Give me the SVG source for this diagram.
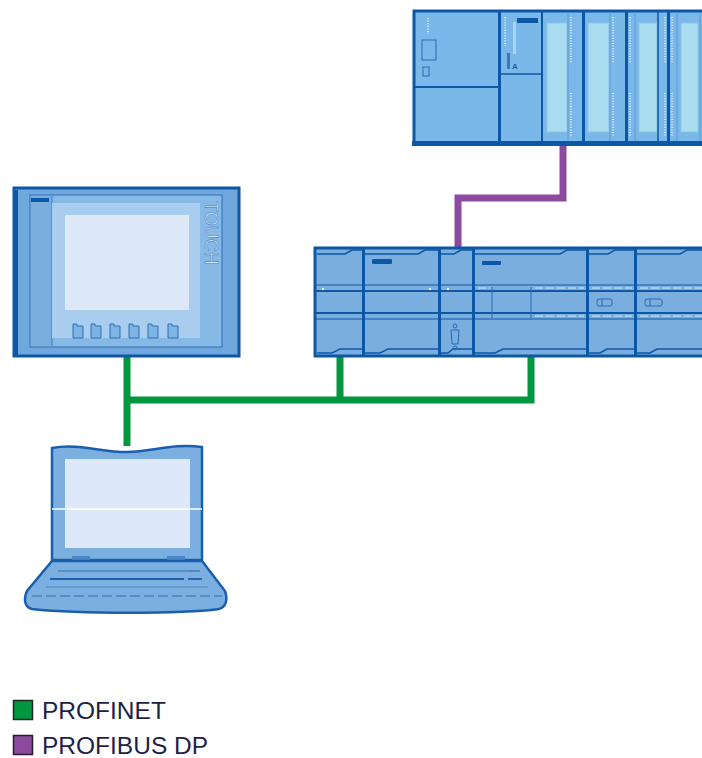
<svg xmlns="http://www.w3.org/2000/svg" width="702" height="758" viewBox="0 0 702 758">
  <style>
    .frame { stroke: #0d57a7; stroke-width: 3; }
    .dark { fill: #0d57a7; }
    .line { stroke: #0d57a7; fill: none; }
    .thin { stroke: #2a69b2; stroke-width: 1; fill: none; }
    .panel { fill: #aadcef; stroke: #8cc3e6; stroke-width: 1; }
    .dots { stroke: #e4f3fb; stroke-width: 1.6; stroke-dasharray: 1 1.6; fill: none; }
    .wdash { stroke: #cfe5f7; stroke-width: 1.2; stroke-dasharray: 8 3; fill: none; }
    .pn { stroke: #00973f; stroke-width: 7; fill: none; stroke-linejoin: miter; }
    .dp { stroke: #8b4a9e; stroke-width: 7; fill: none; stroke-linejoin: miter; }
    .legend { font-family: "Liberation Sans", Arial, sans-serif; font-size: 24.5px; fill: #1c1f4a; }
  </style>

  <!-- bus connections -->
  <g id="connectors">
    <polyline class="dp" points="563,146 563,198 458,198 458,248"/>
    <polyline class="pn" points="127,356 127,446"/>
    <polyline class="pn" points="127,400 531,400 531,356"/>
    <polyline class="pn" points="340,356 340,400"/>
  </g>

  <!-- S7-300 rack -->
  <g id="s7-300">
    <rect x="414" y="11" width="300" height="133" fill="#7bb8ea" class="frame"/>
    <rect x="412" y="141" width="300" height="5" class="dark"/>
    <!-- power supply -->
    <line x1="414" y1="87" x2="500" y2="87" class="line" stroke-width="2"/>
    <line x1="428" y1="18" x2="428" y2="34" class="dots"/>
    <rect x="422" y="40" width="14" height="20" fill="none" class="thin" stroke="#2a69b2" stroke-width="1.5"/>
    <rect x="423" y="67" width="6" height="9" class="thin"/>
    <rect x="498" y="11" width="3" height="133" class="dark"/>
    <!-- CPU -->
    <line x1="500" y1="74" x2="542" y2="74" class="line" stroke-width="1.5"/>
    <line x1="505" y1="17" x2="505" y2="46" class="dots"/>
    <rect x="517" y="18" width="21" height="5" class="dark"/>
    <rect x="513" y="22" width="3" height="32" fill="#a9d3f2"/>
    <rect x="507" y="53" width="3" height="16" fill="#3d78bb"/>
    <text x="512" y="69" font-family="Liberation Sans, Arial, sans-serif" font-size="8" font-weight="bold" fill="#1d5aa6">A</text>
    <rect x="541" y="11" width="2" height="133" class="dark"/>
    <!-- signal modules -->
    <rect x="547" y="23" width="20" height="109" class="panel"/>
    <line x1="568" y1="12" x2="568" y2="141" stroke="#5d9ad4" stroke-width="1"/>
    <line x1="571" y1="17" x2="571" y2="63" class="dots"/>
    <line x1="571" y1="93" x2="571" y2="137" class="dots"/>
    <rect x="582" y="11" width="3" height="133" class="dark"/>
    <rect x="588" y="23" width="21" height="109" class="panel"/>
    <line x1="610" y1="12" x2="610" y2="141" stroke="#5d9ad4" stroke-width="1"/>
    <line x1="613" y1="17" x2="613" y2="63" class="dots"/>
    <line x1="613" y1="93" x2="613" y2="137" class="dots"/>
    <rect x="625" y="11" width="3" height="133" class="dark"/>
    <line x1="630" y1="17" x2="630" y2="63" class="dots"/>
    <line x1="630" y1="93" x2="630" y2="137" class="dots"/>
    <line x1="635" y1="12" x2="635" y2="141" stroke="#5d9ad4" stroke-width="1"/>
    <rect x="639" y="23" width="18" height="109" class="panel"/>
    <line x1="658" y1="12" x2="658" y2="141" class="line" stroke-width="1.5"/>
    <line x1="665" y1="17" x2="665" y2="63" class="dots"/>
    <line x1="665" y1="93" x2="665" y2="137" class="dots"/>
    <rect x="667" y="11" width="3" height="133" class="dark"/>
    <line x1="672" y1="17" x2="672" y2="63" class="dots"/>
    <line x1="672" y1="93" x2="672" y2="137" class="dots"/>
    <line x1="677" y1="12" x2="677" y2="141" stroke="#5d9ad4" stroke-width="1"/>
    <rect x="681" y="23" width="17" height="109" class="panel"/>
    <line x1="700" y1="12" x2="700" y2="141" stroke="#5d9ad4" stroke-width="1"/>
  </g>

  <!-- S7-1200 station -->
  <g id="s7-1200">
    <rect x="315" y="248" width="400" height="108" fill="#7aaedf" class="frame"/>
    <!-- horizontal rails -->
    <line x1="315" y1="285" x2="702" y2="285" class="line" stroke-width="1.2"/>
    <line x1="315" y1="291" x2="702" y2="291" class="line" stroke-width="2"/>
    <line x1="315" y1="313" x2="702" y2="313" class="line" stroke-width="2"/>
    <line x1="315" y1="319" x2="702" y2="319" class="line" stroke-width="1.2"/>
    <!-- module tabs, top and bottom -->
    <g class="line" stroke-width="1.5">
      <polyline points="317,254 345,254 352,250 362,250"/>
      <polyline points="365,254 418,254 425,250 438,250"/>
      <polyline points="441,254 454,254 461,250 472,250"/>
      <polyline points="475,254 560,254 567,250 586,250"/>
      <polyline points="589,254 608,254 615,250 634,250"/>
      <polyline points="637,254 680,254 687,250 702,250"/>
      <polyline points="317,353 332,353 340,349 362,349"/>
      <polyline points="365,353 380,353 388,349 438,349"/>
      <polyline points="441,353 448,353 453,349 472,349"/>
      <polyline points="475,353 495,353 503,349 586,349"/>
      <polyline points="589,353 600,353 607,349 634,349"/>
      <polyline points="637,353 650,353 657,349 702,349"/>
    </g>
    <!-- module walls -->
    <rect x="362" y="248" width="3" height="108" class="dark"/>
    <rect x="438" y="248" width="3" height="108" class="dark"/>
    <rect x="472" y="248" width="3" height="108" class="dark"/>
    <rect x="586" y="248" width="3" height="108" class="dark"/>
    <rect x="634" y="248" width="3" height="108" class="dark"/>
    <!-- labels and details -->
    <rect x="372" y="259" width="20" height="5" rx="1" class="dark"/>
    <rect x="482" y="261" width="19" height="4" rx="1" class="dark"/>
    <g fill="#e6f2fc">
      <circle cx="323" cy="289" r="1.2"/>
      <circle cx="430" cy="289" r="1.2"/>
      <circle cx="448" cy="289" r="1.2"/>
    </g>
    <line x1="492" y1="287" x2="492" y2="318" class="thin"/>
    <line x1="531" y1="287" x2="531" y2="318" class="thin"/>
    <line x1="478" y1="288" x2="490" y2="288" class="wdash"/>
    <line x1="535" y1="288" x2="584" y2="288" class="wdash"/>
    <line x1="535" y1="316" x2="584" y2="316" class="wdash"/>
    <line x1="592" y1="288" x2="632" y2="288" class="wdash"/>
    <line x1="592" y1="316" x2="632" y2="316" class="wdash"/>
    <line x1="640" y1="288" x2="702" y2="288" class="wdash"/>
    <line x1="640" y1="316" x2="702" y2="316" class="wdash"/>
    <g class="thin" fill="#a9cdee">
      <rect x="597" y="299" width="15" height="7" rx="2"/>
      <line x1="602" y1="299" x2="602" y2="306"/>
      <rect x="645" y="299" width="17" height="7" rx="2"/>
      <line x1="650" y1="299" x2="650" y2="306"/>
    </g>
    <!-- DB9 socket -->
    <g class="thin" stroke="#dbe9f8">
      <circle cx="455" cy="326" r="2"/>
      <path d="M451,330 L459,330 L458,344 L452,344 Z" fill="none"/>
      <circle cx="455" cy="348" r="2"/>
    </g>
  </g>

  <!-- HMI touch panel -->
  <g id="hmi-panel">
    <rect x="14" y="188" width="225" height="168" fill="#70a8dd" class="frame"/>
    <rect x="14" y="190" width="4" height="165" class="dark"/>
    <rect x="30" y="195" width="192" height="152" fill="#86b9e6" stroke="#2f6fb5" stroke-width="1"/>
    <rect x="31" y="196" width="21" height="150" fill="#7aaede"/>
    <line x1="52" y1="196" x2="52" y2="346" stroke="#2f6fb5" stroke-width="0.8"/>
    <rect x="31" y="198" width="18" height="4" class="dark"/>
    <rect x="52" y="203" width="148" height="135" fill="#a8cdef"/>
    <rect x="65" y="215" width="124" height="95" fill="#dde9f8"/>
    <g fill="#7db4e3" stroke="#2f6fb5" stroke-width="1">
      <path d="M73,324 h4 v2 h6 v12 h-10 z"/>
      <path d="M91,324 h4 v2 h6 v12 h-10 z"/>
      <path d="M110,324 h4 v2 h6 v12 h-10 z"/>
      <path d="M129,324 h4 v2 h6 v12 h-10 z"/>
      <path d="M148,324 h4 v2 h6 v12 h-10 z"/>
      <path d="M168,324 h4 v2 h6 v12 h-10 z"/>
    </g>
    <text x="0" y="0" transform="translate(205,233) rotate(90)" text-anchor="middle" font-family="Liberation Sans, Arial, sans-serif" font-size="18" fill="#d6e6f7" stroke="#4f8acb" stroke-width="0.6">TOUCH</text>
  </g>

  <!-- programming device (laptop) -->
  <g id="laptop">
    <path d="M52,448 C78,443 100,452 127,452 C152,452 172,443 202,447 L202,560 L52,560 Z" fill="#7aafe0" stroke="#1a5fae" stroke-width="2.5"/>
    <rect x="65" y="459" width="125" height="89" fill="#dde9f8"/>
    <line x1="52" y1="509" x2="202" y2="509" stroke="#ffffff" stroke-width="1.5"/>
    <rect x="72" y="556" width="18" height="4" fill="#4b86c7"/>
    <rect x="167" y="556" width="18" height="4" fill="#4b86c7"/>
    <path d="M52,561 L202,561 L225,591 C228,600 226,607 219,609 C180,614 80,614 32,609 C25,607 23,600 27,591 Z" fill="#7aafe0" stroke="#1a5fae" stroke-width="2.5"/>
    <line x1="58" y1="571" x2="190" y2="571" stroke="#2f6fb5" stroke-width="1.2"/>
    <line x1="190" y1="571" x2="200" y2="571" stroke="#2f6fb5" stroke-width="1.2"/>
    <line x1="50" y1="579" x2="184" y2="579" stroke="#1a5fae" stroke-width="1.8"/>
    <line x1="188" y1="579" x2="202" y2="579" stroke="#1a5fae" stroke-width="1.8"/>
    <line x1="46" y1="587" x2="208" y2="587" stroke="#4b86c7" stroke-width="1.2"/>
    <line x1="32" y1="596" x2="222" y2="596" stroke="#2f6fb5" stroke-width="1.2" stroke-dasharray="10 4"/>
  </g>

  <!-- legend -->
  <g id="legend">
    <rect x="13.5" y="700.5" width="19" height="19" fill="#00973f" stroke="#1b2b20" stroke-width="1.5"/>
    <text x="42" y="719" class="legend">PROFINET</text>
    <rect x="13.5" y="735.5" width="19" height="19" fill="#8b4a9e" stroke="#2a1b30" stroke-width="1.5"/>
    <text x="42" y="754" class="legend">PROFIBUS DP</text>
  </g>
</svg>
